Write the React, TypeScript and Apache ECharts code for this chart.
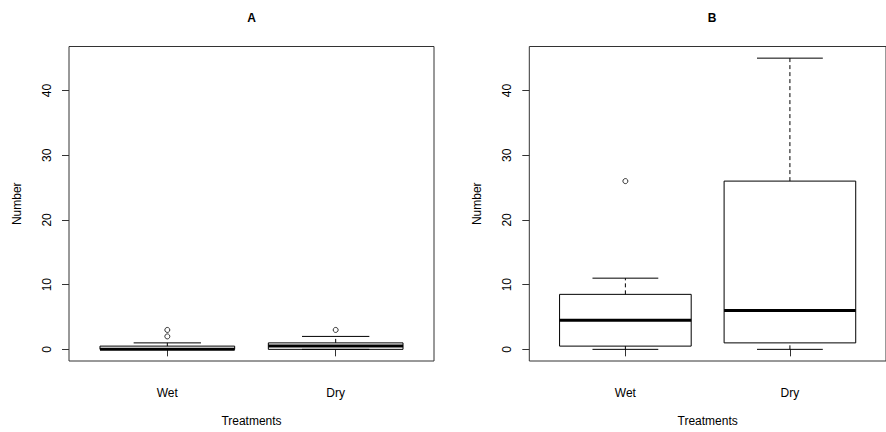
import React, { useEffect, useRef } from 'react';
import * as echarts from 'echarts';

const categories = ['Wet', 'Dry'];
const yTicks = [0, 10, 20, 30, 40];
const panelTitles = ['A', 'B'];
// [min, Q1, median, Q3, max] per category
const panelAStats = [
  [0, 0, 0, 0.5, 1],
  [0, 0, 0.5, 1, 2],
];
const panelAOutliers = [[2, 3], [3]];
const panelBStats = [
  [0, 0.5, 4.5, 8.5, 11],
  [0, 1, 6, 26, 45],
];
const panelBOutliers = [[26], []];

const FONT = 'Liberation Sans, Arial, sans-serif';

function boxData(stats: number[][]) {
  return stats.map((s, i) => [i + 1, ...s]);
}
function outlierData(out: number[][]) {
  const d: number[][] = [];
  out.forEach((vals, i) => vals.forEach((v) => d.push([i + 1, v])));
  return d;
}

const renderBox = (params: any, api: any) => {
  const x = api.value(0);
  const lo = api.value(1);
  const q1 = api.value(2);
  const med = api.value(3);
  const q3 = api.value(4);
  const hi = api.value(5);
  const c = (xx: number, yy: number) => api.coord([xx, yy]);
  const solid = { stroke: '#000', lineWidth: 1, fill: null };
  const dashed = { stroke: '#000', lineWidth: 1, lineDash: [4, 3], fill: null };
  const bw = 0.4;
  const sw = 0.2;
  const seg = (x1: number, y1: number, x2: number, y2: number, style: any) => {
    const a = c(x1, y1);
    const b = c(x2, y2);
    return { type: 'line', shape: { x1: a[0], y1: a[1], x2: b[0], y2: b[1] }, style };
  };
  const tl = c(x - bw, q3);
  const br = c(x + bw, q1);
  return {
    type: 'group',
    children: [
      seg(x, q3, x, hi, dashed),
      seg(x, lo, x, q1, dashed),
      seg(x - sw, hi, x + sw, hi, solid),
      seg(x - sw, lo, x + sw, lo, solid),
      {
        type: 'rect',
        shape: { x: tl[0], y: tl[1], width: br[0] - tl[0], height: br[1] - tl[1] },
        style: { stroke: '#000', lineWidth: 1, fill: 'none' },
      },
      seg(x - bw, med, x + bw, med, { stroke: '#000', lineWidth: 3, fill: null }),
    ],
  };
};

export default function App() {
  const ref = useRef<HTMLDivElement>(null);
  useEffect(() => {
    if (!ref.current) return;
    const chart = echarts.init(ref.current, undefined, { renderer: 'svg' });
    const grids = [
      { left: 69, top: 46.5, width: 365, height: 318 },
      { left: 529.3, top: 46.5, width: 365, height: 318 },
    ].map((g) => ({ ...g, show: true, borderColor: '#333', borderWidth: 1, backgroundColor: 'transparent' }));

    const xAxes = [0, 1].map((i) => ({
      type: 'value',
      gridIndex: i,
      min: 0.416,
      max: 2.584,
      name: 'Treatments',
      nameLocation: 'middle',
      nameGap: 54,
      nameTextStyle: { fontFamily: FONT, fontSize: 12, color: '#000' },
      axisLine: { show: false },
      splitLine: { show: false },
      axisTick: { show: true, length: 7, lineStyle: { color: '#333' }, customValues: [1, 2] },
      axisLabel: {
        show: true,
        margin: 26,
        fontFamily: FONT,
        fontSize: 12,
        color: '#000',
        customValues: [1, 2],
        formatter: (v: number) => categories[Math.round(v) - 1] ?? '',
      },
    }));

    const yAxes = [0, 1].map((i) => ({
      type: 'value',
      gridIndex: i,
      min: -1.8,
      max: 46.8,
      name: 'Number',
      nameLocation: 'middle',
      nameGap: 46,
      nameRotate: 90,
      nameTextStyle: { fontFamily: FONT, fontSize: 12, color: '#000' },
      axisLine: { show: false },
      splitLine: { show: false },
      axisTick: { show: true, length: 7, lineStyle: { color: '#333' }, customValues: yTicks },
      axisLabel: {
        show: true,
        rotate: 90,
        margin: 16,
        fontFamily: FONT,
        fontSize: 12,
        color: '#000',
        customValues: yTicks,
      },
    }));

    const outlierStyle = {
      type: 'scatter',
      symbol: 'circle',
      symbolSize: 5,
      itemStyle: { color: 'transparent', borderColor: '#000', borderWidth: 1 },
      silent: true,
    };

    chart.setOption({
      animation: false,
      title: [
        { text: panelTitles[0], left: 251.5, top: 12, textAlign: 'center', padding: 0,
          textStyle: { fontFamily: FONT, fontSize: 12, fontWeight: 'bold', color: '#000' } },
        { text: panelTitles[1], left: 712, top: 12, textAlign: 'center', padding: 0,
          textStyle: { fontFamily: FONT, fontSize: 12, fontWeight: 'bold', color: '#000' } },
      ],
      grid: grids,
      xAxis: xAxes,
      yAxis: yAxes,
      series: [
        { type: 'custom', xAxisIndex: 0, yAxisIndex: 0, renderItem: renderBox, data: boxData(panelAStats),
          encode: { x: 0, y: [1, 2, 3, 4, 5] }, silent: true },
        { ...outlierStyle, xAxisIndex: 0, yAxisIndex: 0, data: outlierData(panelAOutliers) },
        { type: 'custom', xAxisIndex: 1, yAxisIndex: 1, renderItem: renderBox, data: boxData(panelBStats),
          encode: { x: 0, y: [1, 2, 3, 4, 5] }, silent: true },
        { ...outlierStyle, xAxisIndex: 1, yAxisIndex: 1, data: outlierData(panelBOutliers) },
      ],
    });
    return () => chart.dispose();
  }, []);
  return (
    <div
      ref={ref}
      style={{ position: 'absolute', left: 0, top: 0, width: 886, height: 432, background: '#fff' }}
    />
  );
}
